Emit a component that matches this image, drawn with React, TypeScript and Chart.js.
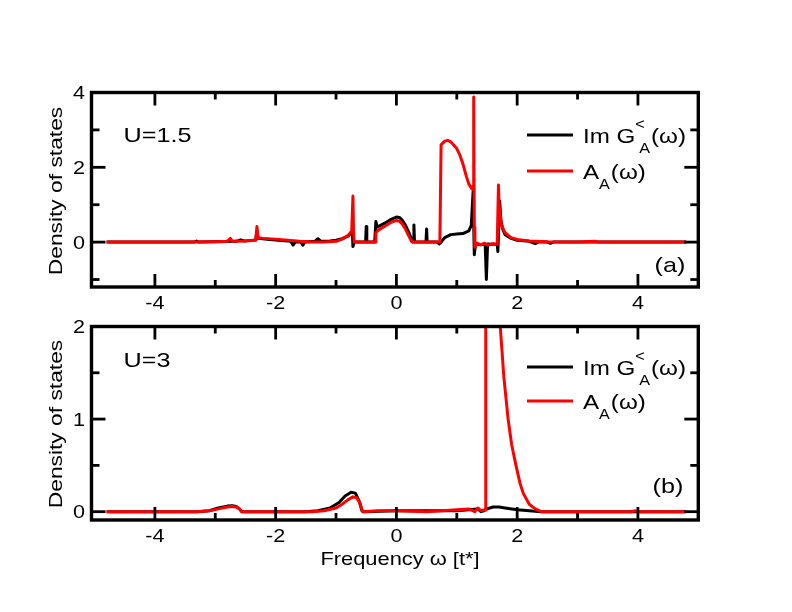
import { useEffect, useRef } from "react"
import { Chart, registerables } from "chart.js"

Chart.register(...registerables)

const FONT = '"Liberation Sans", Arial, Helvetica, sans-serif'

// panel (a): U = 1.5, [omega, value]
const imGLesserA: [number, number][] = [
  [-4.8, 0], [-3.35, 0], [-3.31, 0.03], [-3.27, 0], [-2.65, 0.02], [-2.58, 0.06], [-2.52, 0.03],
  [-2.45, 0.04], [-2.33, 0.06], [-2.31, 0.3], [-2.29, 0.1], [-2.1, 0.07], [-1.9, 0.04], [-1.75, 0.02],
  [-1.71, -0.08], [-1.67, 0.01], [-1.58, 0], [-1.55, -0.08], [-1.52, 0], [-1.35, 0.02], [-1.3, 0.09],
  [-1.25, 0.02], [-1.1, 0.03], [-1.0, 0.05], [-0.9, 0.09], [-0.8, 0.16], [-0.75, 0.25], [-0.73, 0.3],
  [-0.72, -0.12], [-0.7, 0], [-0.6, 0], [-0.51, 0], [-0.5, 0.42], [-0.49, 0], [-0.36, 0], [-0.34, 0.55],
  [-0.32, 0.4], [-0.2, 0.5], [-0.1, 0.6], [0, 0.67], [0.05, 0.66], [0.1, 0.58], [0.15, 0.45], [0.2, 0.28],
  [0.25, 0.08], [0.27, 0], [0.28, 0], [0.29, 0.46], [0.3, 0], [0.49, 0], [0.5, 0.35], [0.51, 0],
  [0.68, 0], [0.71, -0.05], [0.74, 0], [0.8, 0.12], [0.9, 0.2], [1.0, 0.22], [1.1, 0.23], [1.2, 0.3],
  [1.24, 0.45], [1.27, 1.35], [1.29, -0.34], [1.31, -0.05], [1.4, -0.07], [1.47, -0.05], [1.49, -1.0],
  [1.51, -0.05], [1.6, -0.06], [1.67, -0.05], [1.68, -0.25], [1.69, 0.2], [1.71, 1.1], [1.73, 0.6],
  [1.76, 0.35], [1.8, 0.2], [1.9, 0.1], [2.0, 0.05], [2.2, 0.02], [2.3, -0.04], [2.35, 0], [2.5, 0],
  [2.55, -0.03], [2.6, 0], [3.0, 0], [4.8, 0],
]

const spectralA: [number, number][] = [
  [-4.8, 0], [-3.5, 0], [-3.0, 0.01], [-2.8, 0.02], [-2.75, 0.1], [-2.72, 0.02], [-2.5, 0.03],
  [-2.33, 0.05], [-2.31, 0.42], [-2.29, 0.12], [-2.2, 0.1], [-2.0, 0.08], [-1.8, 0.05], [-1.6, 0.02],
  [-1.4, 0], [-1.2, 0], [-1.0, 0.02], [-0.9, 0.08], [-0.8, 0.18], [-0.74, 0.3], [-0.72, 1.23],
  [-0.71, 0.3], [-0.7, 0], [-0.5, 0], [-0.35, 0], [-0.34, 0.25], [-0.3, 0.32], [-0.2, 0.42],
  [-0.1, 0.52], [0, 0.58], [0.05, 0.56], [0.1, 0.48], [0.15, 0.35], [0.2, 0.18], [0.25, 0.02],
  [0.28, 0], [0.5, 0], [0.72, 0], [0.74, 2.6], [0.8, 2.7], [0.85, 2.72], [0.9, 2.68], [1.0, 2.5],
  [1.05, 2.33], [1.1, 2.1], [1.16, 1.75], [1.2, 1.55], [1.25, 1.42], [1.27, 1.5], [1.28, 3.88],
  [1.29, 0.4], [1.3, -0.14], [1.33, -0.03], [1.4, -0.07], [1.45, -0.03], [1.52, -0.08], [1.6, -0.04],
  [1.67, -0.06], [1.69, 1.53], [1.7, 1.0], [1.74, 0.45], [1.8, 0.25], [1.9, 0.12], [2.0, 0.07],
  [2.2, 0.03], [2.5, 0.01], [3.0, 0], [3.3, 0.02], [3.35, 0], [4.8, 0],
]

// panel (b): U = 3
const imGLesserB: [number, number][] = [
  [-4.8, 0], [-3.3, 0], [-3.1, 0.01], [-2.95, 0.04], [-2.8, 0.06], [-2.72, 0.065], [-2.65, 0.055],
  [-2.6, 0.03], [-2.56, 0], [-1.5, 0], [-1.3, 0.01], [-1.1, 0.04], [-0.95, 0.1], [-0.85, 0.17],
  [-0.75, 0.21], [-0.68, 0.2], [-0.62, 0.12], [-0.57, 0.01], [-0.55, 0], [0, 0.01], [0.5, 0.01],
  [1.0, 0.01], [1.2, 0.02], [1.35, 0.03], [1.4, 0], [1.45, 0.01], [1.5, 0.03], [1.6, 0.05],
  [1.7, 0.05], [1.8, 0.04], [2.0, 0.02], [2.2, 0.01], [2.4, 0], [4.8, 0],
]

const spectralB: [number, number][] = [
  [-4.8, 0], [-3.3, 0], [-3.1, 0.01], [-2.95, 0.03], [-2.8, 0.05], [-2.72, 0.055], [-2.65, 0.05],
  [-2.6, 0.03], [-2.56, 0], [-1.4, 0], [-1.2, 0.01], [-1.0, 0.04], [-0.9, 0.08], [-0.8, 0.13],
  [-0.72, 0.16], [-0.66, 0.15], [-0.6, 0.09], [-0.56, 0], [-0.3, 0.01], [0, 0.01], [0.5, 0],
  [1.0, 0.02], [1.2, 0.03], [1.3, 0], [1.35, 0.04], [1.4, 0.01], [1.47, 0.02], [1.48, 4.0],
  [1.55, 4.5], [1.65, 2.8], [1.72, 2.0], [1.78, 1.45], [1.85, 1.0], [1.91, 0.72], [1.98, 0.5],
  [2.05, 0.3], [2.1, 0.2], [2.2, 0.08], [2.3, 0.03], [2.4, 0], [3.9, 0], [3.95, 0.01], [4.0, 0], [4.8, 0],
]

const xLabelTicks = [-4, -2, 0, 2, 4]
const xMinorTicks = [-3, -1, 1, 3]
const yLabelTicksA = [0, 2, 4]
const yMinorTicksA = [-1, 1, 3]
const yLabelTicksB = [0, 1, 2]
const yMinorTicksB = [0.5, 1.5]

const legendNames = ["Im G", "A"]

interface PanelSpec {
  top: number
  height: number
  padTop: number
  padBottom: number
  lesser: [number, number][]
  spectral: [number, number][]
  yMin: number
  yMax: number
  yTicks: number[]
  yMinor: number[]
  uText: string
  uBaseline: number
  tag: string
  tagX: number
  tagBaseline: number
  legendY: [number, number]
  titleY: number
  showXTitle: boolean
}

const panelA: PanelSpec = {
  top: 0,
  height: 318,
  padTop: 92.5,
  padBottom: 31,
  lesser: imGLesserA,
  spectral: spectralA,
  yMin: -1.2,
  yMax: 4,
  yTicks: yLabelTicksA,
  yMinor: yMinorTicksA,
  uText: "U=1.5",
  uBaseline: 142,
  tag: "(a)",
  tagX: 670,
  tagBaseline: 272,
  legendY: [135, 171],
  titleY: 191,
  showXTitle: false,
}

const panelB: PanelSpec = {
  top: 318,
  height: 294,
  padTop: 8.5,
  padBottom: 92,
  lesser: imGLesserB,
  spectral: spectralB,
  yMin: -0.09,
  yMax: 2,
  yTicks: yLabelTicksB,
  yMinor: yMinorTicksB,
  uText: "U=3",
  uBaseline: 367,
  tag: "(b)",
  tagX: 668,
  tagBaseline: 493,
  legendY: [367, 401],
  titleY: 424,
  showXTitle: true,
}

// text in the reference is wider than Liberation Sans, so stretch it a little
function text(
  ctx: CanvasRenderingContext2D,
  s: string,
  x: number,
  y: number,
  size: number,
  align: CanvasTextAlign = "left",
  sx = 1.2,
  rotate = false
) {
  ctx.save()
  ctx.translate(x, y)
  if (rotate) ctx.rotate(-Math.PI / 2)
  ctx.scale(sx, 1)
  ctx.font = `${size}px ${FONT}`
  ctx.textAlign = align
  ctx.textBaseline = "alphabetic"
  ctx.fillStyle = "#000"
  ctx.fillText(s, 0, 0)
  const w = ctx.measureText(s).width * sx
  ctx.restore()
  return w
}

function framePlugin(p: PanelSpec) {
  return {
    id: "frame",
    afterDraw(chart: Chart) {
      const { ctx, chartArea: a } = chart
      const xs = chart.scales.x
      const ys = chart.scales.y
      const off = p.top
      ctx.save()
      ctx.strokeStyle = "#000"
      ctx.lineCap = "butt"
      ctx.lineWidth = 2.8

      const seg = (x1: number, y1: number, x2: number, y2: number) => {
        ctx.beginPath()
        ctx.moveTo(x1, y1)
        ctx.lineTo(x2, y2)
        ctx.stroke()
      }

      // x ticks, inside, bottom and top
      xLabelTicks.forEach((v) => {
        const x = xs.getPixelForValue(v)
        seg(x, a.bottom, x, a.bottom - 13)
        seg(x, a.top, x, a.top + 13)
      })
      xMinorTicks.forEach((v) => {
        const x = xs.getPixelForValue(v)
        seg(x, a.bottom, x, a.bottom - 7)
        seg(x, a.top, x, a.top + 7)
      })
      // y ticks, left and right
      p.yTicks.forEach((v) => {
        const y = ys.getPixelForValue(v)
        seg(a.left, y, a.left + 14, y)
        seg(a.right, y, a.right - 14, y)
      })
      p.yMinor.forEach((v) => {
        const y = ys.getPixelForValue(v)
        seg(a.left, y, a.left + 8, y)
        seg(a.right, y, a.right - 8, y)
      })

      ctx.lineWidth = 3.4
      ctx.strokeRect(a.left, a.top, a.right - a.left, a.bottom - a.top)

      // tick labels
      xLabelTicks.forEach((v) => {
        text(ctx, String(v), xs.getPixelForValue(v), a.bottom + 22, 18, "center", 1.2)
      })
      p.yTicks.forEach((v) => {
        text(ctx, String(v), 85, ys.getPixelForValue(v) + 6.5, 18, "right", 1.2)
      })

      // axis titles
      text(ctx, "Density of states", 62, p.titleY - off, 19, "center", 1.2, true)
      if (p.showXTitle) {
        text(ctx, "Frequency ω [t*]", 400, 565 - off, 19, "center", 1.15)
      }

      // panel labels
      text(ctx, p.uText, 123.5, p.uBaseline - off, 21, "left", 1.2)
      text(ctx, p.tag, p.tagX, p.tagBaseline - off, 21, "center", 1.2)

      // legend
      const colors = ["#000000", "#ff0000"]
      p.legendY.forEach((ly, i) => {
        const y = ly - off
        ctx.strokeStyle = colors[i]
        ctx.lineWidth = 3
        seg(527, y, 573, y)
        const base = y + 7.5
        let x = 583
        x += text(ctx, legendNames[i], x, base, 21, "left", 1.15)
        if (i === 0) {
          text(ctx, "<", x, base - 14, 14, "left", 1.15)
          x += 4
        }
        x += text(ctx, "A", x, base + 10, 14, "left", 1.15)
        text(ctx, "(ω)", x + 1, base, 21, "left", 1.15)
      })
      ctx.restore()
    },
  }
}

function Panel({ spec }: { spec: PanelSpec }) {
  const chartRef = useRef<HTMLCanvasElement>(null)

  useEffect(() => {
    if (!chartRef.current) return
    const line = (pts: [number, number][], color: string) => ({
      data: pts.map(([x, y]) => ({ x, y })),
      borderColor: color,
      backgroundColor: color,
      borderWidth: 3,
      borderJoinStyle: "round" as const,
      pointRadius: 0,
      tension: 0,
      fill: false,
    })
    const chart = new Chart(chartRef.current, {
      type: "line",
      data: {
        // first dataset is drawn on top
        datasets: [line(spec.spectral, "#ff0000"), line(spec.lesser, "#000000")],
      },
      options: {
        responsive: true,
        maintainAspectRatio: false,
        animation: false,
        events: [],
        layout: {
          padding: { left: 91.5, right: 93.7, top: spec.padTop, bottom: spec.padBottom },
        },
        scales: {
          x: { type: "linear", min: -5.05, max: 5, display: false },
          y: { type: "linear", min: spec.yMin, max: spec.yMax, display: false },
        },
        plugins: {
          legend: { display: false },
          tooltip: { enabled: false },
        },
      },
      plugins: [framePlugin(spec)],
    })
    return () => chart.destroy()
  }, [spec])

  return (
    <div style={{ position: "absolute", left: 0, top: spec.top, width: 792, height: spec.height }}>
      <canvas ref={chartRef} />
    </div>
  )
}

export default function App() {
  return (
    <div style={{ position: "absolute", left: 0, top: 0, width: 792, height: 612, background: "#fff" }}>
      <Panel spec={panelA} />
      <Panel spec={panelB} />
    </div>
  )
}
